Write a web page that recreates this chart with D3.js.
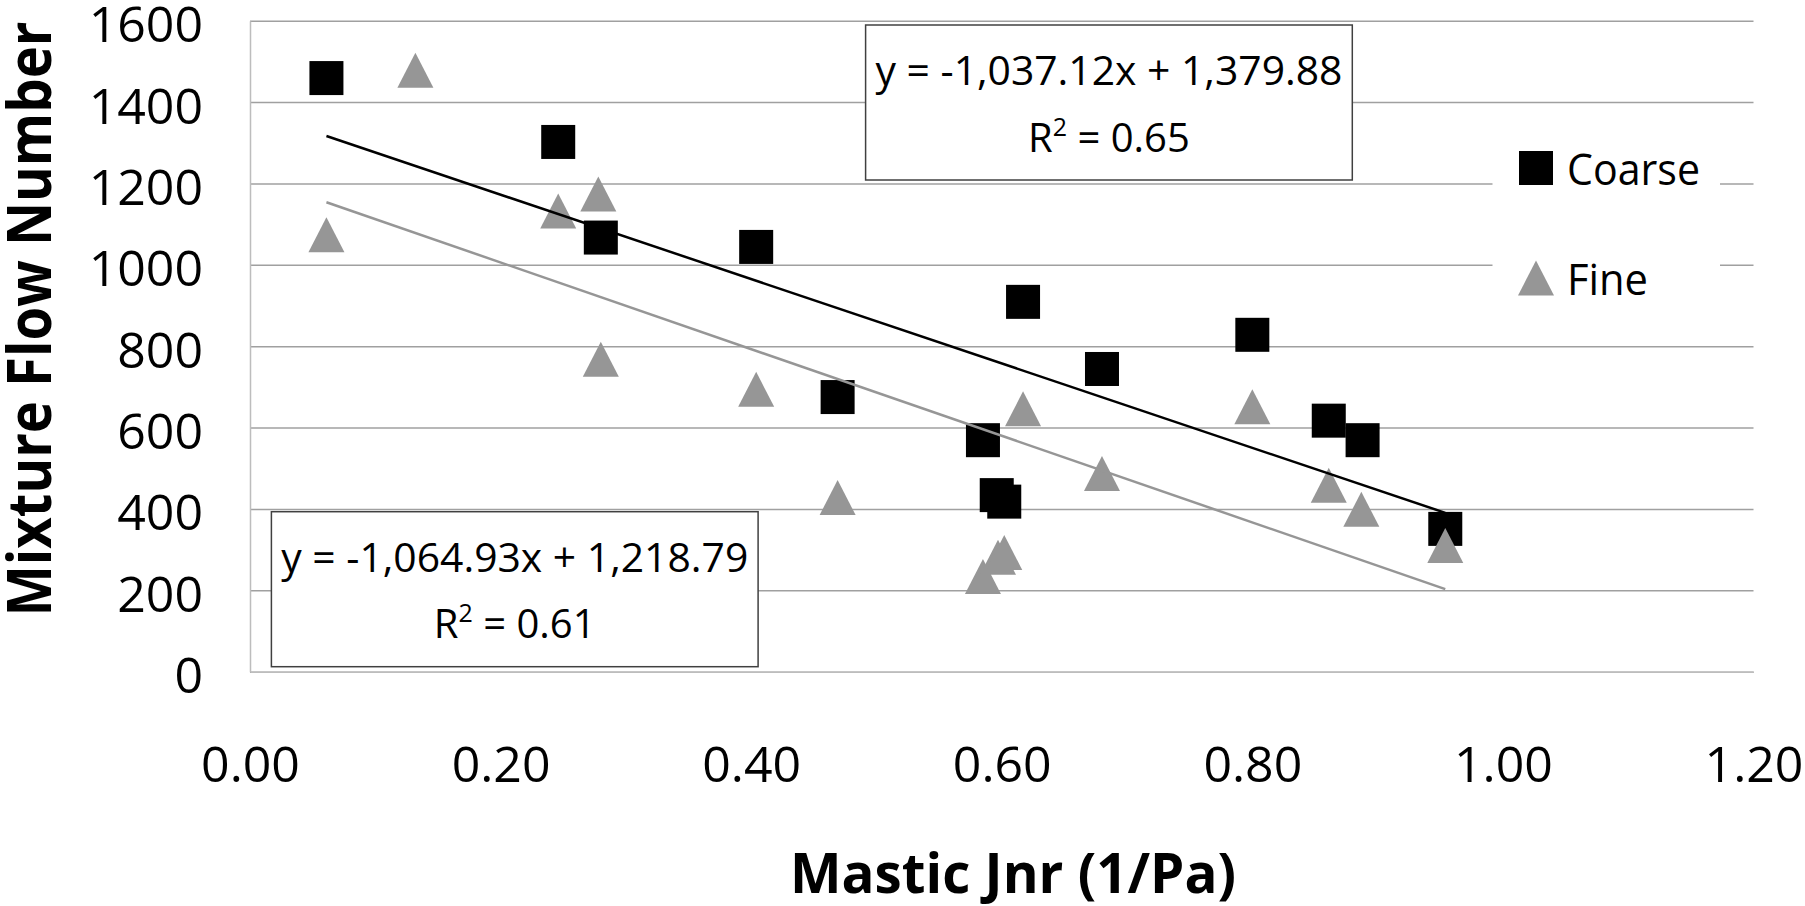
<!DOCTYPE html>
<html>
<head>
<meta charset="utf-8">
<script src="https://cdn.jsdelivr.net/npm/d3@7"></script>
<style>
  body { margin: 0; background: #fff; }
  svg text { font-family: "Open Sans", "Noto Sans", sans-serif; fill: #000; }
</style>
</head>
<body>
<svg id="chart" width="1805" height="906"></svg>
<script>
// ─── DATA ─────────────────────────────────────────────────────────────────────
const coarseX = [0.061, 0.246, 0.280, 0.404, 0.469, 0.585, 0.596, 0.602, 0.617, 0.680, 0.800, 0.861, 0.888, 0.954];
const coarseY = [1459, 1302, 1067, 1044, 675, 569, 434, 418, 909, 744, 828, 617, 569, 351];

const fineX = [0.061, 0.132, 0.246, 0.278, 0.280, 0.404, 0.469, 0.585, 0.597, 0.602, 0.617, 0.680, 0.800, 0.861, 0.887, 0.954];
const fineY = [1074, 1478, 1132, 1174, 768, 694, 428, 234, 281, 293, 646, 487, 651, 458, 399, 310];

const seriesNames = ["Coarse", "Fine"];
const trendSlope = [-1037.12, -1064.93];
const trendIntercept = [1379.88, 1218.79];
const trendR2 = ["0.65", "0.61"];
const trendEquation = ["y = -1,037.12x + 1,379.88", "y = -1,064.93x + 1,218.79"];

const xTicks = [0, 0.2, 0.4, 0.6, 0.8, 1.0, 1.2];
const yTicks = [0, 200, 400, 600, 800, 1000, 1200, 1400, 1600];

// ─── LAYOUT ───────────────────────────────────────────────────────────────────
const svg = d3.select("#chart");
const plot = { left: 250, right: 1753.5, top: 20.7, bottom: 671.7 };

const x = d3.scaleLinear().domain([0, 1.2]).range([plot.left, plot.right]);
const y = d3.scaleLinear().domain([0, 1600]).range([plot.bottom, plot.top]);

const GREY = "#969696";

// gridlines
svg.append("g")
  .attr("transform", `translate(${plot.left},0)`)
  .call(d3.axisLeft(y).tickValues(yTicks).tickSize(-(plot.right - plot.left)).tickFormat(""))
  .call(g => g.select(".domain").remove())
  .call(g => g.selectAll("line").attr("stroke", "#a0a0a0").attr("stroke-width", 1.5));

// y axis
svg.append("g")
  .attr("transform", `translate(${plot.left},0)`)
  .call(d3.axisLeft(y).tickValues(yTicks).tickSize(0).tickPadding(47).tickFormat(d3.format("d")))
  .call(g => g.select(".domain").attr("stroke", "#bdbdbd").attr("stroke-width", 1.5))
  .call(g => g.selectAll("text")
    .attr("dy", null).attr("y", 21)
    .style("font-size", "50px").attr("fill", "#000"));

// x axis (labels only, bottom line comes from the 0 gridline)
svg.append("g")
  .attr("transform", `translate(0,${plot.bottom})`)
  .call(d3.axisBottom(x).tickValues(xTicks).tickSize(0).tickFormat(d3.format(".2f")))
  .call(g => g.select(".domain").attr("stroke", "#bdbdbd").attr("stroke-width", 1.5))
  .call(g => g.selectAll("text")
    .attr("dy", null).attr("y", 110)
    .style("font-size", "50px").attr("fill", "#000"));

// axis titles
svg.append("text")
  .attr("x", 1013).attr("y", 892.7)
  .attr("text-anchor", "middle")
  .attr("textLength", 446).attr("lengthAdjust", "spacingAndGlyphs")
  .style("font-size", "55px").style("font-weight", "bold")
  .text("Mastic Jnr (1/Pa)");

svg.append("text")
  .attr("transform", "translate(51,319) rotate(-90)")
  .attr("text-anchor", "middle")
  .attr("textLength", 595).attr("lengthAdjust", "spacingAndGlyphs")
  .style("font-size", "60px").style("font-weight", "bold")
  .text("Mixture Flow Number");

// ─── MARKERS ──────────────────────────────────────────────────────────────────
const SQ = 34;
const triPath = "M0,-17.5L18,17.5L-18,17.5Z";

const coarse = coarseX.map((v, i) => ({ x: v, y: coarseY[i] }));
const fine = fineX.map((v, i) => ({ x: v, y: fineY[i] }));

svg.append("g").selectAll("rect")
  .data(coarse).join("rect")
  .attr("x", d => x(d.x) - SQ / 2).attr("y", d => y(d.y) - SQ / 2)
  .attr("width", SQ).attr("height", SQ)
  .attr("fill", "#000");

svg.append("g").selectAll("path")
  .data(fine).join("path")
  .attr("transform", d => `translate(${x(d.x)},${y(d.y)})`)
  .attr("d", triPath)
  .attr("fill", GREY);

// ─── TRENDLINES ───────────────────────────────────────────────────────────────
[coarseX, fineX].forEach((xs, i) => {
  const [x0, x1] = d3.extent(xs);
  const f = v => trendSlope[i] * v + trendIntercept[i];
  svg.append("line")
    .attr("x1", x(x0)).attr("y1", y(f(x0)))
    .attr("x2", x(x1)).attr("y2", y(f(x1)))
    .attr("stroke", i === 0 ? "#000" : GREY)
    .attr("stroke-width", 2.5);
});

// ─── EQUATION BOXES ───────────────────────────────────────────────────────────
const boxes = [
  { left: 865.6, top: 25 },
  { left: 271.4, top: 511.7 },
];
const BOX_W = 486.7, BOX_H = 155;

boxes.forEach((b, i) => {
  const g = svg.append("g").attr("transform", `translate(${b.left},${b.top})`);
  g.append("rect")
    .attr("width", BOX_W).attr("height", BOX_H)
    .attr("fill", "#fff").attr("stroke", "#404040").attr("stroke-width", 1.5);

  g.append("text")
    .attr("x", BOX_W / 2).attr("y", 60.3)
    .attr("text-anchor", "middle")
    .attr("textLength", 467).attr("lengthAdjust", "spacingAndGlyphs")
    .style("font-size", "40px")
    .text(trendEquation[i]);

  const r = g.append("text")
    .attr("x", BOX_W / 2).attr("y", 126.7)
    .attr("text-anchor", "middle")
    .style("font-size", "40px");
  r.append("tspan").text("R");
  r.append("tspan").attr("dy", -16).style("font-size", "25px").text("2");
  r.append("tspan").attr("dy", 16).text(" = " + trendR2[i]);
});

// ─── LEGEND ───────────────────────────────────────────────────────────────────
const legend = svg.append("g");
legend.append("rect")
  .attr("x", 1492.5).attr("y", 118).attr("width", 227.5).attr("height", 210)
  .attr("fill", "#fff");

const legendY = [168, 278];
const legendW = [133, 81];

seriesNames.forEach((name, i) => {
  const row = legend.append("g").attr("transform", `translate(1536,${legendY[i]})`);
  if (i === 0) {
    row.append("rect")
      .attr("x", -SQ / 2).attr("y", -SQ / 2).attr("width", SQ).attr("height", SQ)
      .attr("fill", "#000");
  } else {
    row.append("path").attr("d", triPath).attr("fill", GREY);
  }
  row.append("text")
    .attr("x", 31).attr("y", 17)
    .attr("textLength", legendW[i]).attr("lengthAdjust", "spacingAndGlyphs")
    .style("font-size", "44px")
    .text(name);
});
</script>
</body>
</html>
